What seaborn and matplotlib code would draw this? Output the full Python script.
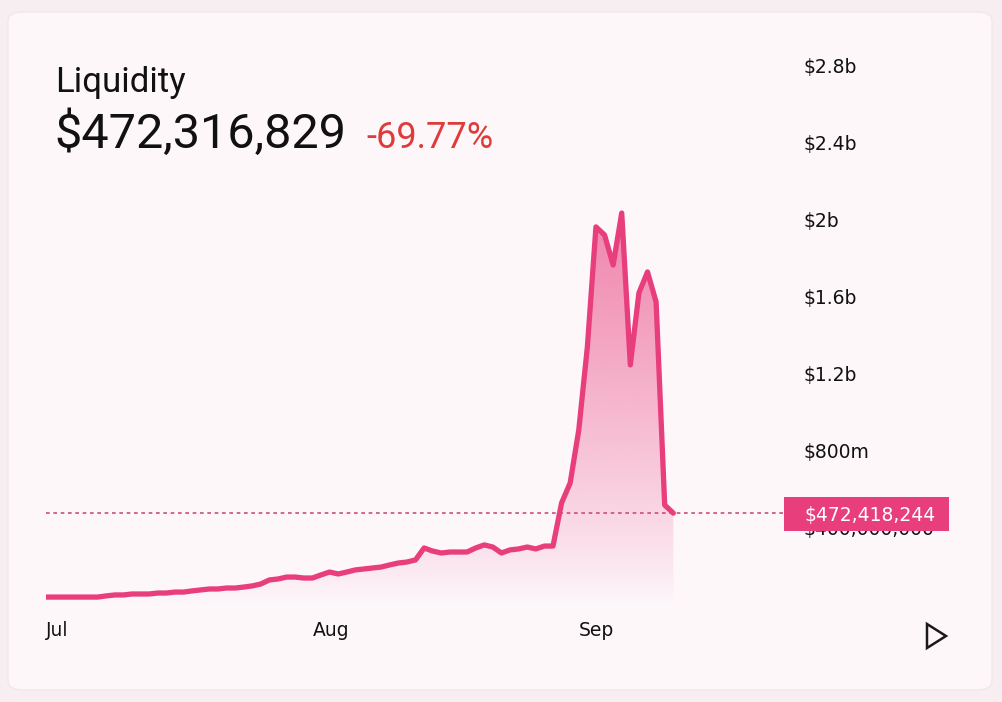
import matplotlib
matplotlib.use("Agg")
import matplotlib.pyplot as plt
import matplotlib.dates as mdates
from matplotlib.patches import FancyBboxPatch, Polygon, Rectangle
from matplotlib.colors import to_rgb
import numpy as np
import pandas as pd
import seaborn as sns

# daily liquidity (USD millions), Jul 1 .. Sep 12
start_date = "2023-07-01"
liquidity_m = [
    36, 36, 36, 36, 36, 36, 36, 42, 47, 47,
    52, 52, 52, 57, 57, 62, 62, 68, 73, 78,
    78, 83, 83, 88, 94, 104, 125, 130, 140, 140,
    135, 135, 151, 166, 156, 166, 177, 182, 187, 192,
    203, 213, 218, 229, 291, 275, 265, 270, 270, 270,
    291, 307, 296, 265, 281, 286, 296, 286, 301, 301,
    525, 629, 904, 1335, 1959, 1917, 1761, 2031, 1242, 1616,
    1725, 1569, 514, 472,
]
month_ticks = ["2023-07-01", "2023-08-01", "2023-09-01"]
month_labels = ["Jul", "Aug", "Sep"]
y_ticks_m = [400, 800, 1200, 1600, 2000, 2400, 2800]
y_labels = ["$400,000,000", "$800m", "$1.2b", "$1.6b", "$2b", "$2.4b", "$2.8b"]

title = "Liquidity"
headline_value = "$472,316,829"
headline_change = "-69.77%"
hover_value_m = 472.418244
hover_label = "$472,418,244"

PINK = "#e83e7c"
W, H = 1002, 702

df = pd.DataFrame({
    "date": pd.date_range(start_date, periods=len(liquidity_m), freq="D"),
    "liquidity": np.array(liquidity_m) * 1e6,
})

sns.set_theme(style="white")
plt.rcParams["font.family"] = ["DejaVu Sans"]

fig = plt.figure(figsize=(W / 100, H / 100), dpi=100)
fig.patch.set_facecolor("#f7eef2")

# card background
card = FancyBboxPatch((8 / W, 12 / H), 984 / W, 678 / H,
                      boxstyle="round,pad=0,rounding_size=0.014",
                      transform=fig.transFigure, facecolor="#fdf7fa",
                      edgecolor="#f3e6ec", linewidth=1, zorder=-5)
fig.add_artist(card)

ax = fig.add_axes([46 / W, 1 - 604 / H, 739 / W, 554 / H])
ax.set_facecolor("none")
ax.set_zorder(1)

sns.lineplot(data=df, x="date", y="liquidity", ax=ax, color=PINK,
             linewidth=3.8, zorder=4)

# gradient fill under the line
xnum = mdates.date2num(df["date"])
yv = df["liquidity"].values
fill = ax.fill_between(xnum, yv, 0, color="none", linewidth=0)
ymax = yv.max()
n = 256
alpha = 0.62 * np.linspace(0, 1, n) ** 0.85
rgba = np.zeros((n, 1, 4))
rgba[:, 0, :3] = to_rgb(PINK)
rgba[:, 0, 3] = alpha
img = ax.imshow(rgba, extent=[xnum[0], xnum[-1], 0, ymax], origin="lower",
                aspect="auto", zorder=3)
path = fill.get_paths()[0]
img.set_clip_path(path, transform=ax.transData)

x0 = mdates.date2num(pd.Timestamp(start_date))
ax.set_xlim(x0, x0 + 86)
ax.set_ylim(0, 2878e6)

# hover price line
ax.axhline(hover_value_m * 1e6, color="#c94f7c", linestyle=(0, (2.2, 2.2)),
           linewidth=1.2, zorder=2)

ax.set_xticks(mdates.date2num(pd.to_datetime(month_ticks)))
ax.set_xticklabels(month_labels, ha="left")
ax.yaxis.tick_right()
ax.set_yticks(np.array(y_ticks_m) * 1e6)
ax.set_yticklabels(y_labels)
ax.tick_params(axis="x", length=0, pad=12, labelsize=13.5, labelcolor="#111111")
ax.tick_params(axis="y", length=0, pad=13, labelsize=13.5, labelcolor="#111111")
ax.set_xlabel("")
ax.set_ylabel("")
for s in ax.spines.values():
    s.set_visible(False)
ax.grid(False)

# price tag over the right axis
tag = Rectangle((784 / W, 1 - 531 / H), 165 / W, 34 / H, transform=fig.transFigure,
                facecolor=PINK, edgecolor="none", zorder=10)
fig.add_artist(tag)
fig.text(804 / W, 1 - 515 / H, hover_label, color="white", fontsize=13.5,
         va="center", ha="left", zorder=11)

# header
fig.text(55 / W, 1 - 92 / H, title, fontsize=25, family=["Roboto", "DejaVu Sans"],
         color="#111111", va="baseline")
fig.text(54 / W, 1 - 148 / H, headline_value, fontsize=35,
         family=["Roboto", "DejaVu Sans"], color="#111111", va="baseline")
fig.text(366 / W, 1 - 148 / H, headline_change, fontsize=26,
         family=["Roboto", "DejaVu Sans"], color="#df3b3b", va="baseline")

# play icon
tri = Polygon([[927 / W, 1 - 624 / H], [927 / W, 1 - 648 / H], [946 / W, 1 - 636 / H]],
              closed=True, fill=False, edgecolor="#1a1a1a", linewidth=1.8,
              transform=fig.transFigure, joinstyle="miter")
fig.add_artist(tri)

fig.savefig("out.png", dpi=100, facecolor=fig.get_facecolor())
